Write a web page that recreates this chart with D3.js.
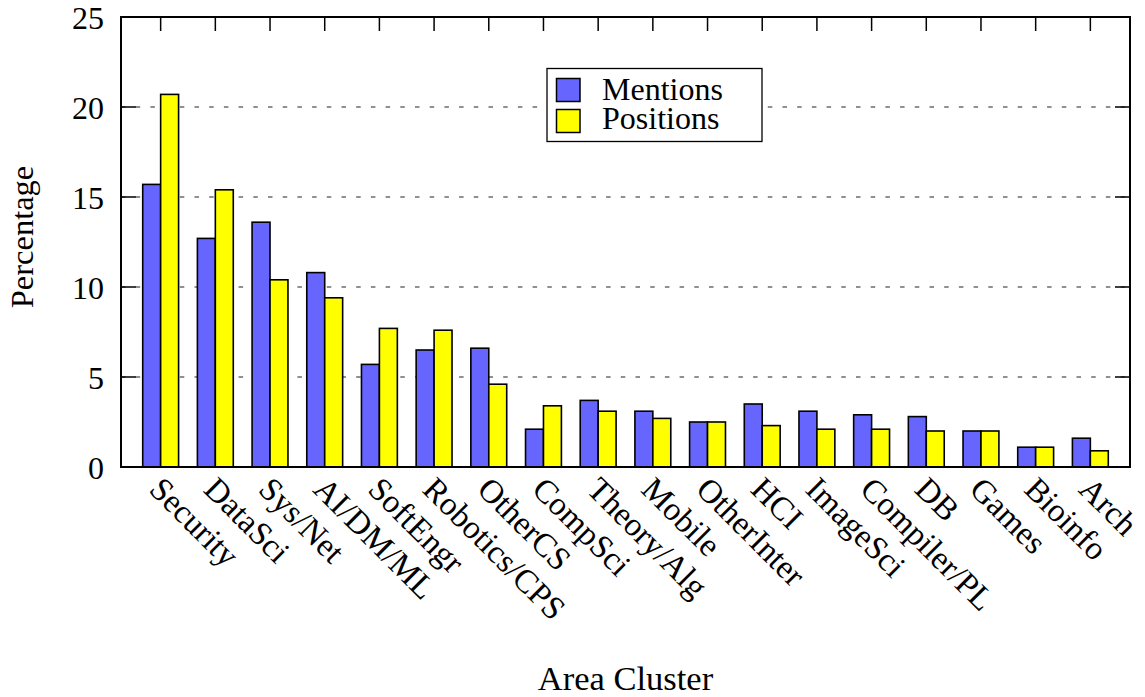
<!DOCTYPE html>
<html>
<head>
<meta charset="utf-8">
<script src="https://cdn.jsdelivr.net/npm/d3@7"></script>
<style>
  html, body { margin: 0; padding: 0; background: #fff; }
  svg { display: block; }
  text { font-family: "Liberation Serif", "Times New Roman", serif; fill: #000; }
</style>
</head>
<body>
<svg id="chart" width="1145" height="697"></svg>
<script>
const categories = ["Security","DataSci","Sys/Net","AI/DM/ML","SoftEngr","Robotics/CPS","OtherCS","CompSci","Theory/Alg","Mobile","OtherInter","HCI","ImageSci","Compiler/PL","DB","Games","Bioinfo","Arch"];
const mentions  = [15.7, 12.7, 13.6, 10.8, 5.7, 6.5, 6.6, 2.1, 3.7, 3.1, 2.5, 3.5, 3.1, 2.9, 2.8, 2.0, 1.1, 1.6];
const positions = [20.7, 15.4, 10.4, 9.4, 7.7, 7.6, 4.6, 3.4, 3.1, 2.7, 2.5, 2.3, 2.1, 2.1, 2.0, 2.0, 1.1, 0.9];
const seriesNames = ["Mentions", "Positions"];
const seriesColors = ["#6666ff", "#ffff00"];
const yTicks = [0, 5, 10, 15, 20, 25];
const gridTicks = [5, 10, 15, 20];

(function () {
const svg = d3.select("#chart");
const pL = 121, pR = 1130, pT = 17, pB = 467;
const fs = 32;

const x = d3.scaleLinear().domain([-0.725, categories.length - 1 + 0.725]).range([pL, pR]);
const y = d3.scaleLinear().domain([0, 25]).range([pB, pT]);
const bw = 0.328;

// grid
svg.append("g").selectAll("line").data(gridTicks).join("line")
  .attr("x1", pL).attr("x2", pR)
  .attr("y1", d => y(d)).attr("y2", d => y(d))
  .attr("stroke", "#222").attr("stroke-width", 1.2)
  .attr("stroke-dasharray", "4.5,10.2");

// legend
const lg = svg.append("g");
lg.append("rect").attr("x", 547).attr("y", 68.5).attr("width", 215).attr("height", 73)
  .attr("fill", "#fff").attr("stroke", "#000").attr("stroke-width", 1.3);
seriesNames.forEach((n, i) => {
  lg.append("rect").attr("x", 556.5).attr("y", 78.5 + i * 31).attr("width", 23.5).attr("height", 23)
    .attr("fill", seriesColors[i]).attr("stroke", "#000").attr("stroke-width", 1.5);
  lg.append("text").attr("x", 602).attr("y", 99.5 + i * 29.5).attr("font-size", fs).text(n);
});

// bars
const series = [mentions, positions];
series.forEach((vals, s) => {
  svg.append("g").selectAll("rect").data(vals).join("rect")
    .attr("x", (d, i) => x(i - bw + s * bw))
    .attr("width", x(bw) - x(0))
    .attr("y", d => y(d))
    .attr("height", d => y(0) - y(d))
    .attr("fill", seriesColors[s])
    .attr("stroke", "#000").attr("stroke-width", 1.6);
});

// frame
svg.append("rect").attr("x", pL).attr("y", pT).attr("width", pR - pL).attr("height", pB - pT)
  .attr("fill", "none").attr("stroke", "#000").attr("stroke-width", 2);

// y ticks (both sides)
const yt = svg.append("g");
yTicks.forEach(t => {
  yt.append("line").attr("x1", pL).attr("x2", pL + 15).attr("y1", y(t)).attr("y2", y(t))
    .attr("stroke", "#000").attr("stroke-width", 1.5);
  yt.append("line").attr("x1", pR - 15).attr("x2", pR).attr("y1", y(t)).attr("y2", y(t))
    .attr("stroke", "#000").attr("stroke-width", 1.5);
  yt.append("text").attr("x", 104).attr("y", y(t) + 11.5).attr("text-anchor", "end")
    .attr("font-size", fs).text(t);
});

// x ticks (top mirror) and labels
const xt = svg.append("g");
categories.forEach((c, i) => {
  xt.append("line").attr("x1", x(i)).attr("x2", x(i)).attr("y1", pT).attr("y2", pT + 14)
    .attr("stroke", "#000").attr("stroke-width", 1.5);
  xt.append("text")
    .attr("transform", `translate(${x(i) - 13},${pB + 24}) rotate(45)`)
    .attr("font-size", 33).text(c);
});

// axis titles
svg.append("text").attr("x", (pL + pR) / 2).attr("y", 690).attr("text-anchor", "middle")
  .attr("font-size", 34.5).text("Area Cluster");
svg.append("text").attr("transform", `translate(33,237) rotate(-90)`).attr("text-anchor", "middle")
  .attr("font-size", 32.5).text("Percentage");
})();
</script>
</body>
</html>
